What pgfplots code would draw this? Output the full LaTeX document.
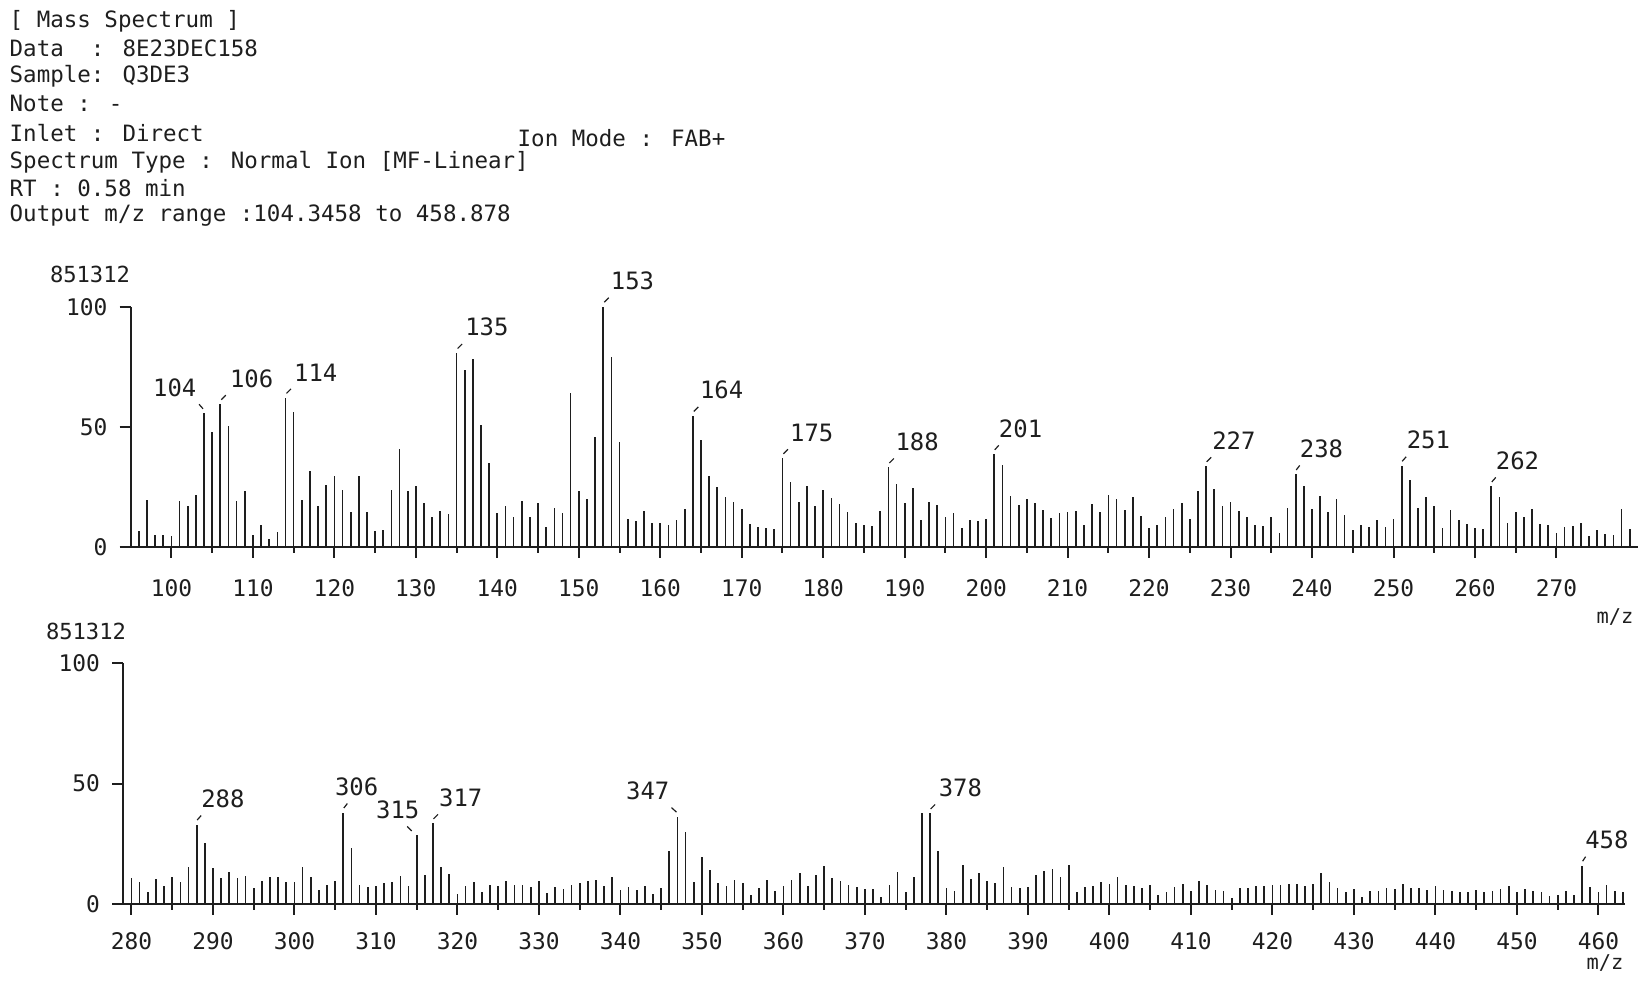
\documentclass[border=0pt]{standalone}
\usepackage{fontspec}
\setmainfont{DejaVu Sans Mono}
\usepackage{pgfplots}
\pgfplotsset{compat=1.18}

\definecolor{ink}{RGB}{30,30,30}

\pgfplotsset{
  msaxis/.style={
    anchor=south west, scale only axis, clip=false,
    axis x line=bottom, axis y line=left,
    axis line style={-, ink, line width=0.2mm},
    ymin=0, ymax=100, ytick={0,50,100},
    tick align=outside, major tick length=1.1mm, minor tick length=0.6mm,
    minor x tick num=1,
    tick style={ink, line width=0.2mm},
    tick label style={font=\fontsize{6.5pt}{7pt}\selectfont, text=ink},
    /pgf/number format/assume math mode=true,
    /pgf/number format/1000 sep={},
  },
}
\tikzset{
  pk/.style={ink, line width=0.12mm},
  pkl/.style={inner sep=0pt, text=ink, font=\fontsize{6.8pt}{8pt}\selectfont},
}

% peak label: m/z, height, leader start x (mm), leader run x (mm), label x shift (mm), anchor
\newcommand{\pk}[6]{%
  \draw[pk] ([shift={(#3mm,0.45mm)}]axis cs:#1,#2) -- ++(#4mm,0.45mm);
  \node[pkl, anchor=#6] at ([shift={(#5mm,1.6mm)}]axis cs:#1,#2) {#1};}

\begin{document}
\begin{tikzpicture}
\path[use as bounding box] (0,0) rectangle (163.9mm,-98.5mm);

% header
\begin{scope}[every node/.style={anchor=west, inner sep=0pt, text=ink,
    font=\fontsize{6.4pt}{7pt}\selectfont}]
\node at (0.9mm,-2.1mm) {[ Mass Spectrum ]};
\node at (0.9mm,-4.8mm) {Data~~: 8E23DEC158};
\node at (0.9mm,-7.6mm) {Sample: Q3DE3};
\node at (0.9mm,-10.3mm) {Note : -};
\node at (0.9mm,-13.3mm) {Inlet : Direct};
\node at (51.7mm,-13.8mm) {Ion Mode : FAB+};
\node at (0.9mm,-16.2mm) {Spectrum Type : Normal Ion [MF-Linear]};
\node at (0.9mm,-18.8mm) {RT : 0.58 min};
\node at (0.9mm,-21.6mm) {Output m/z range :104.3458 to 458.878};
\end{scope}

% scale labels and m/z
\node[text=ink, font=\fontsize{6.3pt}{7pt}\selectfont] at (9.0mm,-27.4mm) {851312};
\node[text=ink, font=\fontsize{6.3pt}{7pt}\selectfont] at (8.6mm,-63.1mm) {851312};
\node[text=ink, font=\fontsize{5.8pt}{7pt}\selectfont] at (161.5mm,-61.7mm) {m/z};
\node[text=ink, font=\fontsize{5.8pt}{7pt}\selectfont] at (160.5mm,-96.3mm) {m/z};

% ---------------- upper spectrum ----------------
\begin{axis}[msaxis,
  at={(13.07mm,-54.67mm)}, width=150.72mm, height=24mm,
  xmin=95, xmax=280, xtick={100,110,...,270},
  xticklabel style={yshift=-0.9mm},
]
\addplot[ycomb, ink, line width=0.17mm, mark=none] table {
96 6.7
97 19.6
98 5
99 5
100 4.5
101 19
102 17
103 21.7
104 55.6
105 47.6
106 59.4
107 50.4
108 19
109 23
110 5
111 9
112 3
113 6
114 62
115 56
116 19.6
117 31.4
118 16.8
119 25.7
120 29.6
121 23.7
122 14.3
123 29.6
124 14.6
125 6.7
126 7
127 23.6
128 40.7
129 23.3
130 25.4
131 18
132 12.2
133 15
134 13.6
135 80.7
136 73.7
137 78.2
138 50.8
139 35
140 13.9
141 16.8
142 12.2
143 18.9
144 12.5
145 18
146 8
147 16
148 14
149 64
150 23
151 20
152 45.6
153 100
154 79
155 43.6
156 11.5
157 10.8
158 15
159 10
160 10
161 9.2
162 11.2
163 15.5
164 54.5
165 44.5
166 29.5
167 25
168 20.5
169 18.5
170 15.8
171 9.6
172 8.2
173 7.8
174 7.2
175 36.8
176 26.9
177 18.6
178 25.2
179 17
180 23.7
181 20.3
182 17.9
183 14.5
184 10
185 9
186 8.7
187 15
188 33
189 26
190 18.3
191 24.6
192 11
193 18.6
194 17.5
195 12.5
196 14
197 7.6
198 11
199 10.7
200 11.4
201 38.5
202 34
203 21
204 17.5
205 20
206 18
207 15.3
208 11.9
209 14
210 14.3
211 14.8
212 8.9
213 17.9
214 14.5
215 21.5
216 19.8
217 15.4
218 20.6
219 12.7
220 7.8
221 8.9
222 12.3
223 15.9
224 18.3
225 11.6
226 23.4
227 33.5
228 24
229 16.9
230 18.6
231 14.9
232 12.2
233 9
234 8.7
235 12.5
236 5.6
237 16
238 30.1
239 25.3
240 15.9
241 21.1
242 14.6
243 19.9
244 13.3
245 7
246 8.9
247 8.2
248 11.1
249 8.3
250 11.4
251 33.7
252 27.9
253 16.1
254 20.6
255 16.9
256 7.7
257 15.1
258 11
259 9.6
260 7.6
261 7.4
262 25.1
263 20.5
264 9.8
265 14.3
266 12.3
267 15.5
268 9.3
269 9.1
270 5.9
271 8.4
272 8.7
273 9.7
274 4.4
275 7.1
276 5.2
277 4.8
278 15.9
279 7.2
};
\pk{104}{55.6}{-0.1}{-0.4}{-0.7}{south east}
\pk{106}{59.4}{0.1}{0.45}{0.9}{south west}
\pk{114}{62}{0.1}{0.45}{0.8}{south west}
\pk{135}{80.7}{0.1}{0.45}{0.8}{south west}
\pk{153}{100}{0.1}{0.45}{0.7}{south west}
\pk{164}{54.5}{0.1}{0.45}{0.65}{south west}
\pk{175}{36.8}{0.1}{0.45}{0.7}{south west}
\pk{188}{33}{0.1}{0.45}{0.65}{south west}
\pk{201}{38.5}{0.05}{0.4}{0.4}{south west}
\pk{227}{33.5}{0.05}{0.45}{0.55}{south west}
\pk{238}{30.1}{0.05}{0.35}{0.35}{south west}
\pk{251}{33.7}{0.05}{0.4}{0.45}{south west}
\pk{262}{25.1}{0.05}{0.4}{0.4}{south west}
\end{axis}

% ---------------- lower spectrum ----------------
\begin{axis}[msaxis,
  at={(12.33mm,-90.4mm)}, width=150.2mm, height=24.07mm,
  xmin=279, xmax=463.3, xtick={280,290,...,460},
  xticklabel style={yshift=-0.5mm},
]
\addplot[ycomb, ink, line width=0.17mm, mark=none] table {
280 11
281 9.3
282 5
283 10.4
284 7.5
285 11.4
286 9
287 15.5
288 33
289 25.3
290 15
291 10.7
292 13.5
293 11
294 11.8
295 6.8
296 9.6
297 11.1
298 11.1
299 9
300 9
301 15.3
302 11.4
303 5.8
304 7.9
305 9.7
306 38
307 23.2
308 8
309 7
310 7.5
311 8.6
312 9
313 11.5
314 7.3
315 28.5
316 12
317 33.5
318 15.3
319 12.3
320 4
321 7.3
322 9.2
323 5
324 8
325 7.5
326 9.5
327 8
328 8
329 7
330 9.5
331 4.5
332 7
333 6.4
334 8.1
335 8.6
336 9.6
337 9.9
338 7.6
339 11.2
340 5.7
341 7.2
342 6
343 7.6
344 4.1
345 6.7
346 22.1
347 36.3
348 30.1
349 9.2
350 19.6
351 14.3
352 8.9
353 7.5
354 9.9
355 8.6
356 3.8
357 6.7
358 9.9
359 5.5
360 7.6
361 10.1
362 12.9
363 7.6
364 11.9
365 15.9
366 10.6
367 9.4
368 8.1
369 7.1
370 6.1
371 6.1
372 2.9
373 8
374 13.2
375 4.8
376 11.4
377 37.6
378 37.6
379 22.2
380 6.7
381 5.5
382 16.3
383 10.2
384 12.8
385 9.7
386 8.6
387 15.4
388 7.1
389 6.8
390 7.2
391 12
392 13.7
393 14.4
394 11.4
395 16.1
396 4.9
397 7
398 7.3
399 9.1
400 8.5
401 11.4
402 7.9
403 7.5
404 6.6
405 8
406 3.9
407 5.1
408 7.1
409 8.2
410 5.6
411 9.7
412 7.7
413 6
414 5.4
415 2.3
416 6.5
417 6.6
418 7.3
419 7.3
420 8
421 7.7
422 8.2
423 8.2
424 7.6
425 8.3
426 12.9
427 9.1
428 6.7
429 5
430 6.1
431 3.1
432 5.5
433 5.2
434 6.7
435 6.4
436 8.5
437 6.8
438 6.6
439 5.8
440 7.6
441 5.9
442 5.4
443 5
444 5
445 5.8
446 5.1
447 5.2
448 6.2
449 7.6
450 4.9
451 6.3
452 5.4
453 5
454 3.4
455 3.8
456 5.6
457 3.6
458 15.9
459 7.2
460 5.1
461 7.7
462 5.2
463 5
};
\pk{288}{33}{0.05}{0.4}{0.4}{south west}
\pk{306}{38}{0.05}{0.35}{-0.9}{south west}
\pk{315}{28.5}{-0.5}{-0.45}{0.33}{south east}
\pk{317}{33.5}{0.05}{0.45}{0.55}{south west}
\pk{347}{36.3}{-0.1}{-0.5}{-0.75}{south east}
\pk{378}{37.6}{0.05}{0.45}{0.8}{south west}
\pk{458}{15.9}{0.05}{0.3}{0.25}{south west}
\end{axis}
\end{tikzpicture}
\end{document}
